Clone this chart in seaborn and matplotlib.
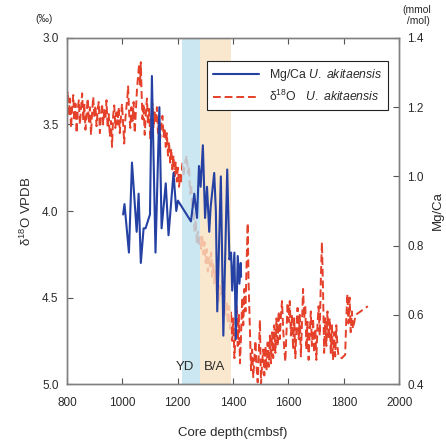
import numpy as np
import pandas as pd
import seaborn as sns
import matplotlib.pyplot as plt
from matplotlib.lines import Line2D

# Mg/Ca U. akitaensis (mmol/mol)
mg_depth = [1003, 1008, 1024, 1035, 1052, 1059, 1067, 1077, 1084, 1100,
            1107, 1120, 1134, 1142, 1157, 1167, 1185, 1195, 1201, 1248,
            1260, 1270, 1277, 1283, 1291, 1299, 1306, 1314, 1319, 1332,
            1338, 1343, 1356, 1365, 1379, 1387, 1393, 1397, 1405, 1410,
            1417, 1423, 1428, 1429]
mg_ca = [0.89, 0.92, 0.78, 1.04, 0.84, 0.95, 0.75, 0.85, 0.85, 0.89,
         1.29, 0.78, 1.20, 0.85, 0.98, 0.83, 1.01, 0.90, 0.93, 0.87,
         0.95, 0.88, 1.03, 0.97, 1.09, 0.88, 0.97, 0.84, 0.91, 1.01,
         0.90, 0.61, 1.00, 0.54, 1.02, 0.76, 0.78, 0.67, 0.78, 0.53,
         0.77, 0.69, 0.75, 0.71]

# d18O U. akitaensis (permil VPDB)
o_depth = [795, 799, 803, 807, 811, 815, 819, 823, 827, 831,
           835, 839, 843, 847, 851, 855, 859, 863, 867, 871,
           875, 879, 883, 887, 891, 895, 899, 903, 907, 911,
           915, 919, 923, 927, 931, 935, 939, 943, 947, 951,
           955, 959, 963, 967, 971, 975, 979, 983, 987, 991,
           995, 999, 1003, 1007, 1011, 1015, 1019, 1021, 1025, 1029,
           1033, 1037, 1041, 1045, 1049, 1053, 1057, 1061, 1064, 1067,
           1070, 1073, 1077, 1081, 1085, 1089, 1093, 1097, 1101, 1105,
           1109, 1113, 1117, 1121, 1125, 1129, 1133, 1137, 1141, 1145,
           1149, 1153, 1157, 1161, 1165, 1169, 1173, 1177, 1181, 1185,
           1189, 1193, 1197, 1201, 1205, 1209, 1213, 1217, 1221, 1225,
           1229, 1233, 1237, 1241, 1245, 1249, 1253, 1257, 1261, 1265,
           1269, 1273, 1277, 1281, 1285, 1289, 1293, 1297, 1301, 1305,
           1309, 1313, 1317, 1321, 1325, 1329, 1333, 1337, 1341, 1345,
           1349, 1353, 1357, 1361, 1365, 1369, 1373, 1377, 1381, 1385,
           1389, 1393, 1397, 1401, 1405, 1409, 1413, 1417, 1421, 1425,
           1429, 1433, 1437, 1441, 1445, 1449, 1453, 1456, 1461, 1465,
           1469, 1473, 1477, 1481, 1485, 1489, 1493, 1497, 1501, 1505,
           1509, 1513, 1517, 1521, 1525, 1529, 1533, 1537, 1541, 1545,
           1549, 1553, 1557, 1561, 1565, 1569, 1573, 1577, 1581, 1585,
           1589, 1593, 1597, 1601, 1605, 1609, 1613, 1617, 1621, 1625,
           1629, 1633, 1637, 1641, 1645, 1649, 1653, 1657, 1661, 1665,
           1669, 1673, 1677, 1681, 1685, 1689, 1693, 1697, 1701, 1705,
           1709, 1713, 1717, 1721, 1725, 1729, 1733, 1737, 1741, 1745,
           1749, 1753, 1757, 1761, 1765, 1769, 1773, 1777, 1781, 1793,
           1805, 1809, 1813, 1817, 1821, 1825, 1829, 1833, 1843, 1887]
d18o = [3.27, 3.38, 3.31, 3.45, 3.35, 3.52, 3.40, 3.33, 3.48, 3.38,
        3.55, 3.42, 3.36, 3.50, 3.41, 3.32, 3.47, 3.38, 3.53, 3.44,
        3.35, 3.49, 3.40, 3.56, 3.43, 3.34, 3.46, 3.39, 3.51, 3.42,
        3.37, 3.55, 3.45, 3.38, 3.50, 3.41, 3.47, 3.36, 3.52, 3.44,
        3.57, 3.48, 3.63, 3.45, 3.39, 3.52, 3.43, 3.50, 3.40, 3.55,
        3.46, 3.38, 3.49, 3.61, 3.47, 3.40, 3.33, 3.28, 3.44, 3.52,
        3.40, 3.48, 3.37, 3.55, 3.43, 3.30, 3.22, 3.15, 3.27, 3.14,
        3.33, 3.47, 3.38, 3.56, 3.44, 3.35, 3.50, 3.41, 3.58, 3.46,
        3.38, 3.52, 3.43, 3.49, 3.40, 3.55, 3.47, 3.58, 3.50, 3.45,
        3.57, 3.52, 3.63, 3.55, 3.68, 3.60, 3.72, 3.64, 3.76, 3.68,
        3.80, 3.72, 3.83, 3.75, 3.86, 3.79, 3.84, 3.72, 3.80, 3.75,
        3.70, 3.68, 3.78, 3.74, 3.90, 3.85, 4.02, 3.96, 4.12, 4.05,
        4.18, 4.12, 4.20, 4.15, 4.22, 4.14, 4.25, 4.18, 4.30, 4.22,
        4.35, 4.27, 4.32, 4.24, 4.38, 4.30, 4.42, 4.34, 4.47, 4.38,
        4.52, 4.43, 4.48, 4.40, 4.55, 4.47, 4.60, 4.52, 4.65, 4.55,
        4.68, 4.58, 4.75, 4.62, 4.85, 4.70, 4.55, 4.78, 4.60, 4.88,
        4.72, 4.50, 4.66, 4.45, 4.58, 4.30, 4.07, 4.40, 4.70, 4.92,
        4.80, 4.96, 4.85, 4.75, 4.90, 4.99, 4.82, 4.63, 5.00, 4.88,
        4.80, 4.95, 4.78, 4.92, 4.76, 4.90, 4.72, 4.88, 4.70, 4.85,
        4.66, 4.82, 4.62, 4.78, 4.58, 4.74, 4.60, 4.52, 4.68, 4.80,
        4.87, 4.70, 4.53, 4.64, 4.52, 4.72, 4.60, 4.80, 4.62, 4.85,
        4.68, 4.56, 4.74, 4.60, 4.84, 4.65, 4.45, 4.62, 4.55, 4.80,
        4.64, 4.86, 4.70, 4.58, 4.78, 4.62, 4.82, 4.68, 4.86, 4.66,
        4.55, 4.72, 4.40, 4.18, 4.45, 4.82, 4.62, 4.78, 4.58, 4.74,
        4.62, 4.82, 4.66, 4.86, 4.70, 4.84, 4.66, 4.78, 4.84, 4.85,
        4.83, 4.62, 4.48, 4.65, 4.50, 4.70, 4.58, 4.68, 4.60, 4.55]

yd = (1215, 1282)
ba = (1282, 1393)

sns.set_style("ticks")
plt.rcParams['font.family'] = ['Liberation Sans', 'DejaVu Sans']
plt.rcParams['mathtext.fontset'] = 'custom'
plt.rcParams['mathtext.rm'] = 'Liberation Sans'
plt.rcParams['mathtext.it'] = 'Liberation Sans:italic'

red = '#e4402a'
blue = '#2441a3'
gray = '#808080'
txt = '#2a2a2a'

fig = plt.figure(figsize=(4.46, 4.41), dpi=100)
ax = fig.add_axes([0.150, 0.129, 0.745, 0.785])

df_o = pd.DataFrame({'depth': o_depth, 'd18o': d18o})
df_m = pd.DataFrame({'depth': mg_depth, 'mgca': mg_ca})

sns.lineplot(data=df_o, x='depth', y='d18o', ax=ax, color=red, lw=1.4,
             linestyle=(0, (4, 2)), sort=False, zorder=1)
ax.axvspan(*yd, color='#bfe2ee', alpha=0.8, lw=0, zorder=2)
ax.axvspan(*ba, color='#f8e1c2', alpha=0.8, lw=0, zorder=2)

ax.set_xlim(800, 2000)
ax.set_ylim(5.0, 3.0)
ax.set_xticks([800, 1000, 1200, 1400, 1600, 1800, 2000])
ax.set_yticks([3.0, 3.5, 4.0, 4.5, 5.0])
ax.set_yticklabels(['3.0', '3.5', '4.0', '4.5', '5.0'])
ax.set_xlabel('Core depth(cmbsf)', fontsize=9.5, color=txt, labelpad=13)
ax.set_ylabel('δ$^{18}$O VPDB', fontsize=9.5, color=txt, labelpad=6)

ax2 = ax.twinx()
sns.lineplot(data=df_m, x='depth', y='mgca', ax=ax2, color=blue, lw=1.5,
             sort=False)
ax2.set_ylim(0.4, 1.4)
ax2.set_yticks([0.4, 0.6, 0.8, 1.0, 1.2, 1.4])
ax2.set_ylabel('Mg/Ca', fontsize=9.5, color=txt, labelpad=6)

for a in (ax, ax2):
    a.tick_params(direction='in', length=4, width=0.8, color='#555555',
                  labelsize=8.5, labelcolor=txt, top=True)
    for s in a.spines.values():
        s.set_color(gray)
        s.set_linewidth(1.0)
ax.tick_params(axis='x', pad=9)
ax.tick_params(axis='y', pad=6)
ax2.tick_params(axis='y', pad=6)

ax.text(1228, 4.9, 'YD', fontsize=9.5, color=txt, ha='center', va='center')
ax.text(1334, 4.9, 'B/A', fontsize=9.5, color=txt, ha='center', va='center')
fig.text(0.098, 0.958, '(‰)', fontsize=7.5, color=txt, ha='center', va='center')
fig.text(0.935, 0.965, '(mmol\n /mol)', fontsize=7.5, color=txt, ha='center',
         va='center', linespacing=1.2)

handles = [Line2D([], [], color=blue, lw=1.5),
           Line2D([], [], color=red, lw=1.4, linestyle=(0, (4, 2)))]
labels = ['Mg/Ca $\\it{U.\\ akitaensis}$', 'δ$^{18}$O   $\\it{U.\\ akitaensis}$']
leg = ax2.legend(handles, labels, loc='upper right', bbox_to_anchor=(0.985, 0.95),
                 fontsize=8.8, frameon=True, fancybox=False, framealpha=1,
                 edgecolor='#222222', handlelength=3.8, borderpad=0.45,
                 labelspacing=0.5, handletextpad=0.8)
for t in leg.get_texts():
    t.set_color(txt)
leg.get_frame().set_linewidth(0.8)

fig.savefig('out.png', dpi=100)
